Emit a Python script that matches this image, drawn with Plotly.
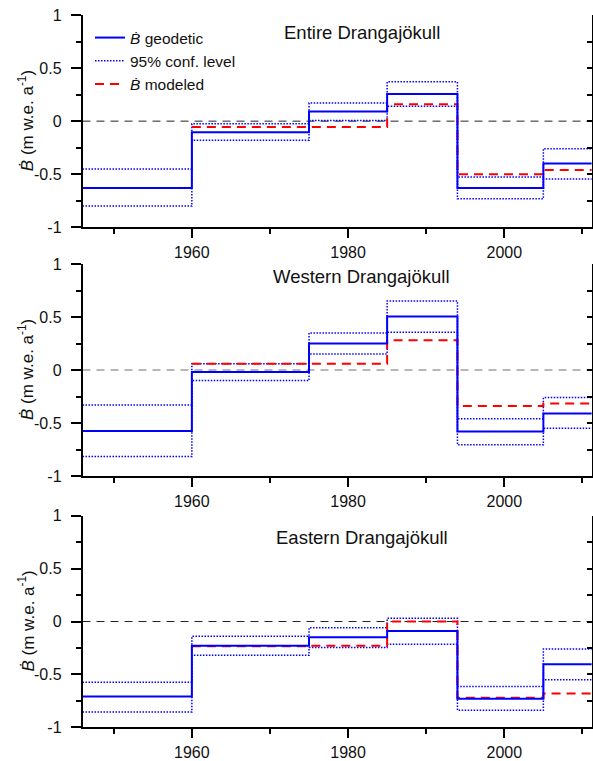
import plotly.graph_objects as go

# ---------------- data ----------------
PERIOD_EDGES = [1946, 1960, 1975, 1985, 1994, 2005, 2011.2]

PANEL_TITLES = ["Entire Drangajökull", "Western Drangajökull", "Eastern Drangajökull"]
Y_TITLE = "<i>Ḃ</i> (m w.e. a<sup>-1</sup>)"

entire_geodetic = [-0.63, -0.105, 0.09, 0.255, -0.63, -0.40]
entire_upper = [-0.45, -0.025, 0.17, 0.37, -0.525, -0.26]
entire_lower = [-0.80, -0.18, 0.005, 0.14, -0.73, -0.545]
entire_modeled = [None, -0.055, -0.055, 0.16, -0.50, -0.46]

western_geodetic = [-0.575, -0.02, 0.25, 0.505, -0.58, -0.41]
western_upper = [-0.33, 0.06, 0.35, 0.65, -0.46, -0.26]
western_lower = [-0.815, -0.10, 0.15, 0.355, -0.705, -0.55]
western_modeled = [None, 0.06, 0.06, 0.28, -0.34, -0.315]

eastern_geodetic = [-0.71, -0.23, -0.15, -0.09, -0.73, -0.405]
eastern_upper = [-0.575, -0.14, -0.06, 0.03, -0.615, -0.26]
eastern_lower = [-0.855, -0.32, -0.245, -0.215, -0.84, -0.55]
eastern_modeled = [None, -0.235, -0.23, 0.0, -0.72, -0.68]

Y_TICKVALS = [-1, -0.5, 0, 0.5, 1]
Y_TICKTEXT = ["-1", "-0.5", "0", "0.5", "1"]
X_TICKVALS = [1960, 1980, 2000]
X_TICKTEXT = ["1960", "1980", "2000"]

panels = [
    (entire_geodetic, entire_upper, entire_lower, entire_modeled),
    (western_geodetic, western_upper, western_lower, western_modeled),
    (eastern_geodetic, eastern_upper, eastern_lower, eastern_modeled),
]

# ---------------- styling / layout ----------------
W, H = 593, 761
FONT = "Arial, Liberation Sans, sans-serif"
BLUE = "#0000ff"
RED = "#ff0000"

x_left, x_right = 82.5, 591.8
panel_px = [(15.0, 227.3), (264.0, 476.0), (515.7, 727.3)]
title_px = [32.0, 276.3, 537.0]
zero_colors = ["#222222", "#6e6e6e", "#222222"]


def step(vals):
    return list(vals) + [vals[-1]]


fig = go.Figure()

for i, (geo, up, lo, mod) in enumerate(panels):
    k = "" if i == 0 else str(i + 1)
    xa, ya = "x" + k, "y" + k
    first = i == 0
    fig.add_trace(go.Scatter(x=PERIOD_EDGES, y=step(up), mode="lines", line_shape="hv",
                             line=dict(color=BLUE, width=1.5, dash="1.5px,1.5px"),
                             name="95% conf. level", legendrank=2, showlegend=first,
                             xaxis=xa, yaxis=ya))
    fig.add_trace(go.Scatter(x=PERIOD_EDGES, y=step(lo), mode="lines", line_shape="hv",
                             line=dict(color=BLUE, width=1.5, dash="1.5px,1.5px"),
                             name="95% conf. level", showlegend=False,
                             xaxis=xa, yaxis=ya))
    fig.add_trace(go.Scatter(x=PERIOD_EDGES, y=step(mod), mode="lines", line_shape="hv",
                             line=dict(color=RED, width=2, dash="9px,6px"),
                             name="<i>Ḃ</i> modeled", legendrank=3, showlegend=first,
                             xaxis=xa, yaxis=ya))
    fig.add_trace(go.Scatter(x=PERIOD_EDGES, y=step(geo), mode="lines", line_shape="hv",
                             line=dict(color=BLUE, width=2),
                             name="<i>Ḃ</i> geodetic", legendrank=1, showlegend=first,
                             xaxis=xa, yaxis=ya))

    top, bot = panel_px[i]
    ydom = [1 - bot / H, 1 - top / H]
    xdom = [x_left / W, x_right / W]

    fig.layout["xaxis" + k] = dict(
        domain=xdom, anchor=ya, range=[PERIOD_EDGES[0], PERIOD_EDGES[-1]],
        showline=True, linecolor="black", linewidth=1.5, showgrid=False, zeroline=False,
        tickvals=X_TICKVALS, ticktext=X_TICKTEXT, ticks="outside", ticklen=9, tickwidth=1.5,
        tickcolor="black", ticklabelstandoff=1,
        minor=dict(tickvals=[1950, 1970, 1990, 2010], ticks="outside", ticklen=5,
                   tickwidth=1.5, tickcolor="black"),
        tickfont=dict(family=FONT, size=16, color="#111"),
    )
    fig.layout["yaxis" + k] = dict(
        domain=ydom, anchor=xa, range=[-1, 1],
        showline=True, linecolor="black", linewidth=1.5, showgrid=False, zeroline=False,
        tickvals=Y_TICKVALS, ticktext=Y_TICKTEXT, ticks="outside", ticklen=10, tickwidth=1.5,
        tickcolor="black", ticklabelstandoff=6,
        minor=dict(tickvals=[-0.75, -0.25, 0.25, 0.75], ticks="outside", ticklen=5,
                   tickwidth=1.5, tickcolor="black"),
        tickfont=dict(family=FONT, size=16, color="#111"),
    )
    # right-hand frame axis with inward ticks
    rk = str(i + 4)
    fig.layout["yaxis" + rk] = dict(
        overlaying=ya, side="right", anchor=xa, range=[-1, 1],
        showline=True, linecolor="black", linewidth=1.5, showgrid=False, zeroline=False,
        tickmode="linear", tick0=0, dtick=0.25, ticks="inside", ticklen=5, tickwidth=1.5,
        tickcolor="black", showticklabels=False,
    )
    fig.add_trace(go.Scatter(x=[None], y=[None], xaxis=xa, yaxis="y" + rk,
                             showlegend=False, hoverinfo="skip"))

    fig.add_shape(type="line", xref=xa + " domain", yref=ya, x0=0, x1=1, y0=0, y1=0,
                  line=dict(color=zero_colors[i], width=1, dash="8px,6px"), layer="below")

    fig.add_annotation(text=PANEL_TITLES[i], xref="paper", yref="paper",
                       x=362 / W, y=1 - title_px[i] / H, xanchor="center", yanchor="middle",
                       showarrow=False, font=dict(family=FONT, size=18.5, color="#111"))

    # y-axis title
    fig.add_annotation(text=Y_TITLE, xref="paper", yref=ya + " domain",
                       x=26 / W, y=0.5, xanchor="center", yanchor="middle", textangle=-90,
                       showarrow=False, font=dict(family=FONT, size=17, color="#111"))

fig.update_layout(
    width=W, height=H,
    margin=dict(l=0, r=0, t=0, b=0, autoexpand=False),
    plot_bgcolor="white", paper_bgcolor="white",
    font=dict(family=FONT, size=16, color="#111"),
    showlegend=True,
    legend=dict(x=90 / W, y=1 - 21 / H, xanchor="left", yanchor="top",
                bgcolor="rgba(0,0,0,0)", borderwidth=0,
                font=dict(family=FONT, size=15.5, color="#111"),
                tracegroupgap=0),
)

fig.write_html("out.html")
